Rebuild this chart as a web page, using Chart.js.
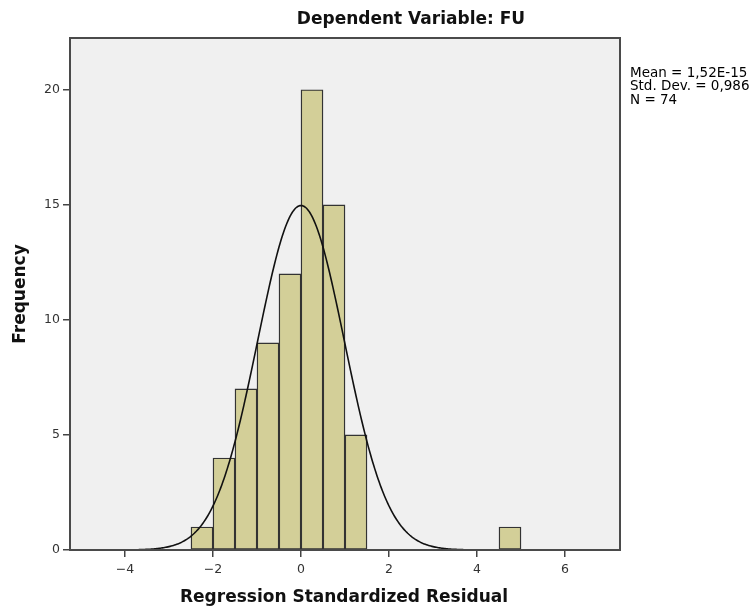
<!DOCTYPE html>
<html>
<head>
<meta charset="utf-8">
<script src="https://cdn.jsdelivr.net/npm/chart.js@4"></script>
<style>
  html, body { margin: 0; padding: 0; background: #ffffff; }
  canvas { display: block; }
</style>
</head>
<body>
<canvas id="c" width="754" height="612"></canvas>
<script>
// ---- Data ----
const binCenters = [-2.25, -1.75, -1.25, -0.75, -0.25, 0.25, 0.75, 1.25, 1.75, 2.25, 2.75, 3.25, 3.75, 4.25, 4.75];
const binCounts  = [1, 4, 7, 9, 12, 20, 15, 5, 0, 0, 0, 0, 0, 0, 1];
const binWidth = 0.5;
const xTickValues = [-4, -2, 0, 2, 4, 6];
const yTickValues = [0, 5, 10, 15, 20];
const statMean = 1.52e-15;
const statSd = 0.986;
const statN = 74;
const statLines = ['Mean = 1,52E-15', 'Std. Dev. = 0,986', 'N = 74'];
const titleText = 'Dependent Variable: FU';
const xTitle = 'Regression Standardized Residual';
const yTitle = 'Frequency';
const xMin = -5.25, xMax = 7.25, yMin = 0, yMax = 22.25;

// fitted normal curve (defined by the stated mean, sd, N and bin width)
const curveXs = [];
for (let i = 0; i <= 500; i++) curveXs.push(xMin + (xMax - xMin) * i / 500);
const curvePts = curveXs.map(x => ({
  x: x,
  y: statN * binWidth / (statSd * Math.sqrt(2 * Math.PI)) * Math.exp(-0.5 * Math.pow((x - statMean) / statSd, 2))
}));

const barPts = binCenters.map((c, i) => ({ x: c, y: binCounts[i] }));

const FONT = '"DejaVu Sans", "Liberation Sans", sans-serif';

const framePlugin = {
  id: 'frame',
  beforeDatasetsDraw(chart) {
    const { ctx, chartArea: a } = chart;
    ctx.save();
    ctx.fillStyle = '#f0f0f0';
    ctx.fillRect(a.left, a.top, a.right - a.left, a.bottom - a.top);
    ctx.restore();
  },
  afterDatasetsDraw(chart) {
    const { ctx, chartArea: a } = chart;
    ctx.save();
    ctx.strokeStyle = '#4a4a4a';
    ctx.lineWidth = 2;
    ctx.strokeRect(a.left, a.top, a.right - a.left, a.bottom - a.top);
    ctx.restore();
  },
  afterDraw(chart) {
    const { ctx, chartArea: a } = chart;
    ctx.save();
    ctx.fillStyle = '#111111';
    ctx.textBaseline = 'middle';
    // title
    ctx.font = 'bold 17px ' + FONT;
    ctx.textAlign = 'center';
    ctx.fillText(titleText, 411, 20);
    // x axis title
    ctx.fillText(xTitle, (a.left + a.right) / 2 - 1, 598);
    // y axis title
    ctx.save();
    ctx.translate(21, (a.top + a.bottom) / 2);
    ctx.rotate(-Math.PI / 2);
    ctx.fillText(yTitle, 0, 0);
    ctx.restore();
    // stats
    ctx.font = '13.5px ' + FONT;
    ctx.textAlign = 'left';
    ctx.fillStyle = '#000000';
    statLines.forEach((t, i) => ctx.fillText(t, 630, 73 + i * 13.5));
    ctx.restore();
  }
};

new Chart(document.getElementById('c'), {
  type: 'bar',
  data: {
    datasets: [
      {
        type: 'line',
        data: curvePts,
        borderColor: '#111111',
        borderWidth: 1.6,
        pointRadius: 0,
        tension: 0,
        fill: false,
        order: 0
      },
      {
        type: 'bar',
        data: barPts,
        backgroundColor: '#d3cf98',
        borderColor: '#333333',
        borderWidth: ctx => (ctx.raw && ctx.raw.y > 0 ? 1.4 : 0),
        borderSkipped: false,
        barPercentage: 1,
        categoryPercentage: 1,
        order: 1
      }
    ]
  },
  options: {
    responsive: false,
    devicePixelRatio: 1,
    animation: false,
    layout: { padding: { top: 38, right: 134, bottom: 0, left: 0 } },
    plugins: { legend: { display: false }, tooltip: { enabled: false }, title: { display: false } },
    scales: {
      x: {
        type: 'linear',
        min: xMin, max: xMax,
        offset: false,
        afterFit(s) { s.height = 62; },
        afterBuildTicks(s) { s.ticks = xTickValues.map(v => ({ value: v })); },
        grid: { offset: false, drawOnChartArea: false, drawTicks: true, tickLength: 7, color: '#444444', lineWidth: 1.5 },
        border: { display: false },
        ticks: { font: { family: FONT, size: 12.5 }, color: '#333333', padding: 5, maxRotation: 0, autoSkip: false,
                 callback: v => String(v).replace('-', '\u2212') }
      },
      y: {
        type: 'linear',
        min: yMin, max: yMax,
        afterFit(s) { s.width = 70; },
        afterBuildTicks(s) { s.ticks = yTickValues.map(v => ({ value: v })); },
        grid: { offset: false, drawOnChartArea: false, drawTicks: true, tickLength: 7, color: '#444444', lineWidth: 1.5 },
        border: { display: false },
        ticks: { font: { family: FONT, size: 12.5 }, color: '#333333', padding: 3, autoSkip: false }
      }
    }
  },
  plugins: [framePlugin]
});
</script>
</body>
</html>
